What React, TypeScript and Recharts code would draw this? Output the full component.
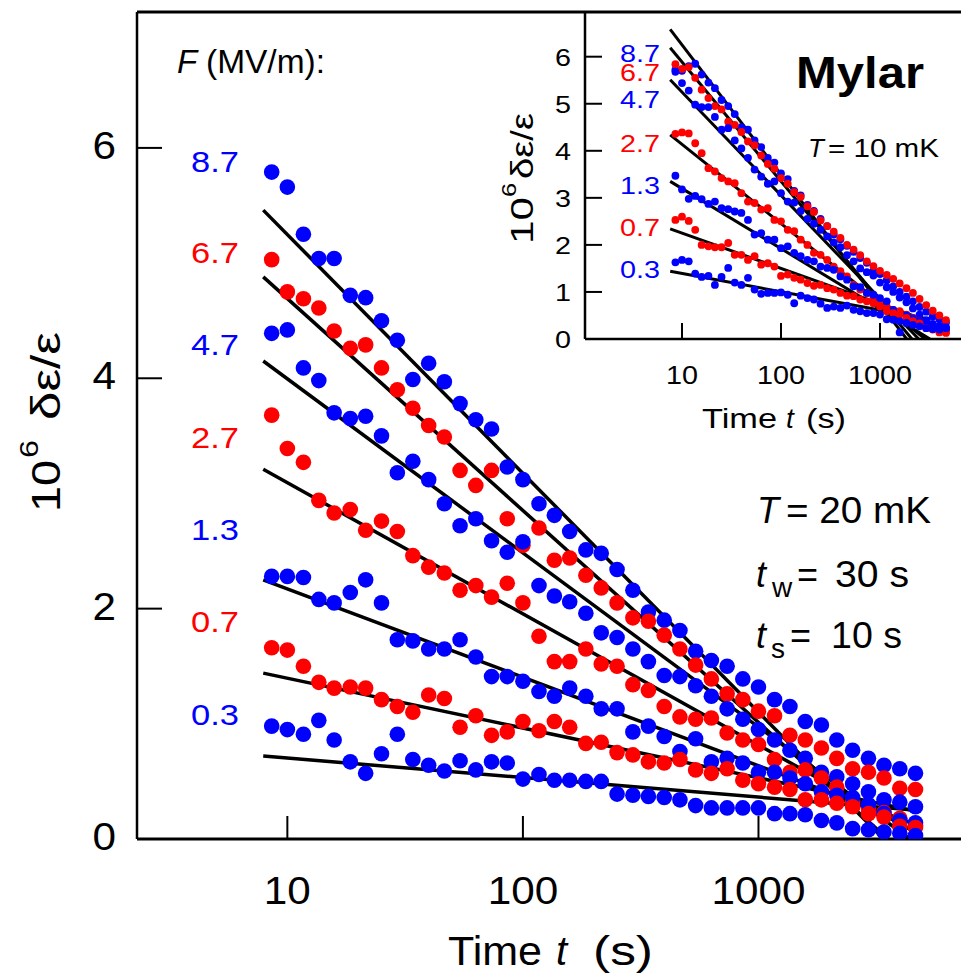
import React from 'react';
import { ComposedChart, XAxis, YAxis, Line, Scatter, ReferenceLine } from 'recharts';

// ---------- data ----------
const TIMES = [
  8.58, 10, 11.7, 13.6, 15.8, 18.5, 21.5, 25.1, 29.3, 34.1,
  39.8, 46.4, 54.1, 63.1, 73.6, 85.8, 100, 117, 136, 158,
  185, 215, 251, 293, 341, 398, 464, 541, 631, 736,
  858, 1000, 1170, 1360, 1580, 1850, 2150, 2510, 2930, 3410,
  3980, 4640,
];

const FIELD_LABELS = ['8.7', '6.7', '4.7', '2.7', '1.3', '0.7', '0.3'];

// main panel, T = 20 mK
const MAIN_87 = [5.79, 5.66, 5.25, 5.04, 5.04, 4.72, 4.70, 4.50, 4.33, 3.99, 4.13, 3.97, 3.78, 3.64, 3.56, 3.23, 3.12, 2.91, 2.81, 2.67, 2.51, 2.48, 2.34, 2.16, 1.97, 1.90, 1.81, 1.63, 1.55, 1.50, 1.39, 1.32, 1.21, 1.15, 1.02, 0.99, 0.86, 0.77, 0.70, 0.64, 0.61, 0.57];
const MAIN_67 = [5.03, 4.75, 4.69, 4.61, 4.41, 4.26, 4.29, 4.09, 3.90, 3.74, 3.59, 3.49, 3.20, 3.07, 3.20, 2.78, 2.55, 2.70, 2.42, 2.44, 2.29, 2.18, 2.05, 1.92, 1.89, 1.77, 1.65, 1.51, 1.39, 1.26, 1.21, 1.11, 1.07, 0.90, 0.86, 0.79, 0.70, 0.61, 0.58, 0.53, 0.44, 0.43];
const MAIN_47 = [4.39, 4.42, 4.09, 3.98, 3.70, 3.65, 3.67, 3.50, 3.18, 3.28, 3.12, 2.91, 2.72, 2.78, 2.59, 2.49, 2.58, 2.20, 2.11, 2.06, 1.96, 1.79, 1.75, 1.65, 1.54, 1.42, 1.41, 1.33, 1.24, 1.13, 1.04, 0.95, 0.86, 0.77, 0.70, 0.58, 0.54, 0.48, 0.41, 0.34, 0.32, 0.28];
const MAIN_27 = [3.68, 3.39, 3.27, 2.94, 2.83, 2.86, 2.68, 2.76, 2.67, 2.46, 2.36, 2.31, 2.16, 2.20, 2.10, 2.22, 2.05, 1.76, 1.54, 1.54, 1.65, 1.52, 1.50, 1.34, 1.29, 1.15, 1.06, 1.04, 1.05, 0.92, 0.86, 0.82, 0.69, 0.58, 0.60, 0.53, 0.45, 0.33, 0.27, 0.23, 0.18, 0.12];
const MAIN_13 = [2.28, 2.28, 2.27, 2.08, 2.05, 2.14, 2.25, 2.05, 1.73, 1.72, 1.65, 1.65, 1.73, 1.58, 1.41, 1.41, 1.37, 1.28, 1.24, 1.31, 1.24, 1.13, 1.13, 0.93, 0.98, 0.89, 0.76, 0.87, 0.67, 0.70, 0.66, 0.58, 0.58, 0.53, 0.48, 0.41, 0.38, 0.36, 0.30, 0.22, 0.16, 0.14];
const MAIN_07 = [1.66, 1.64, 1.50, 1.36, 1.31, 1.32, 1.31, 1.21, 1.15, 1.10, 1.25, 1.22, 0.97, 1.07, 0.90, 0.93, 1.02, 0.94, 1.02, 0.97, 0.83, 0.84, 0.75, 0.73, 0.67, 0.66, 0.69, 0.60, 0.57, 0.61, 0.51, 0.48, 0.45, 0.43, 0.34, 0.34, 0.31, 0.28, 0.22, 0.19, 0.11, 0.10];
const MAIN_03 = [0.98, 0.95, 0.91, 1.03, 0.86, 0.67, 0.57, 0.74, 0.91, 0.69, 0.64, 0.59, 0.68, 0.60, 0.67, 0.66, 0.52, 0.56, 0.51, 0.51, 0.50, 0.50, 0.39, 0.38, 0.37, 0.36, 0.34, 0.29, 0.27, 0.27, 0.27, 0.27, 0.22, 0.22, 0.21, 0.16, 0.14, 0.09, 0.08, 0.06, 0.05, 0.03];

const MAIN_FIT_T0 = 7.9;
const MAIN_FIT_V0 = [5.46, 4.88, 4.15, 3.21, 2.25, 1.44, 0.72];
const MAIN_FIT_T1 = [3400, 3550, 4400, 4700, 4700, 4700, 4700];
const MAIN_FIT_V1 = [0, 0, 0, 0.05, 0.12, 0.24, 0.25];

// inset, T = 10 mK
const INSET_87 = [5.72, 5.70, 5.80, 5.85, 5.62, 5.45, 5.33, 5.08, 4.95, 4.78, 4.50, 4.45, 4.22, 4.08, 3.85, 3.75, 3.52, 3.40, 3.15, 3.05, 2.85, 2.72, 2.55, 2.40, 2.22, 2.12, 1.98, 1.85, 1.72, 1.62, 1.45, 1.38, 1.25, 1.12, 1.00, 0.90, 0.80, 0.68, 0.58, 0.48, 0.42, 0.35];
const INSET_67 = [5.84, 5.74, 5.78, 5.55, 5.30, 5.12, 4.95, 4.88, 4.62, 4.55, 4.40, 4.20, 4.12, 3.90, 3.72, 3.62, 3.42, 3.30, 3.12, 3.02, 2.82, 2.70, 2.52, 2.40, 2.28, 2.15, 2.00, 1.90, 1.78, 1.65, 1.55, 1.45, 1.36, 1.28, 1.18, 1.08, 0.98, 0.85, 0.72, 0.60, 0.50, 0.40];
const INSET_47 = [5.68, 5.44, 5.28, 4.98, 4.93, 4.93, 4.72, 4.45, 4.48, 4.22, 4.05, 3.85, 3.60, 3.45, 3.30, 3.35, 3.10, 2.92, 2.90, 2.72, 2.55, 2.45, 2.32, 2.18, 2.05, 1.95, 1.78, 1.65, 1.50, 1.42, 1.35, 1.20, 1.10, 1.00, 0.88, 0.78, 0.65, 0.52, 0.40, 0.32, 0.28, 0.25];
const INSET_27 = [4.36, 4.39, 4.37, 4.16, 3.95, 3.63, 3.56, 3.42, 3.35, 3.31, 3.10, 2.92, 2.89, 2.75, 2.78, 2.53, 2.50, 2.32, 2.29, 2.11, 2.00, 1.83, 1.79, 1.68, 1.54, 1.44, 1.33, 1.15, 1.05, 0.98, 0.87, 0.80, 0.69, 0.62, 0.59, 0.52, 0.45, 0.38, 0.30, 0.27, 0.20, 0.16];
const INSET_13 = [3.47, 3.18, 2.98, 3.04, 2.97, 2.87, 2.92, 2.78, 2.76, 2.71, 2.68, 2.53, 2.22, 2.25, 2.11, 2.11, 1.93, 1.97, 1.83, 1.76, 1.68, 1.65, 1.54, 1.51, 1.47, 1.33, 1.26, 1.12, 1.10, 0.98, 0.94, 0.87, 0.80, 0.62, 0.14, 0.50, 0.44, 0.38, 0.33, 0.30, 0.26, 0.22];
const INSET_07 = [2.53, 2.60, 2.51, 2.32, 2.00, 1.97, 1.95, 1.95, 2.04, 1.79, 1.79, 1.68, 1.76, 1.58, 1.61, 1.54, 1.34, 1.37, 1.30, 1.26, 1.19, 1.13, 1.15, 1.08, 1.05, 0.98, 0.92, 0.91, 0.84, 0.80, 0.76, 0.69, 0.59, 0.55, 0.52, 0.45, 0.38, 0.33, 0.23, 0.20, 0.14, 0.13];
const INSET_03 = [1.63, 1.68, 1.65, 1.39, 1.32, 1.34, 1.15, 1.32, 1.51, 1.20, 1.15, 1.30, 1.05, 0.96, 0.98, 0.98, 0.99, 0.94, 0.76, 0.92, 0.87, 0.84, 0.75, 0.66, 0.69, 0.66, 0.71, 0.62, 0.59, 0.55, 0.55, 0.52, 0.42, 0.41, 0.38, 0.34, 0.30, 0.27, 0.23, 0.21, 0.20, 0.23];

const INSET_FIT_T0 = 7.6;
const INSET_FIT_V0 = [6.58, 6.19, 5.51, 4.34, 3.35, 2.34, 1.44];
const INSET_FIT_T1 = [1860, 2100, 2460, 2860, 3200, 3200, 3200];
const INSET_FIT_V1 = [0, 0, 0, 0, 0, 0.37, 0.42];

const X_TICKS = [10, 100, 1000];
const MAIN_Y_TICKS = [0, 2, 4, 6];
const INSET_Y_TICKS = [0, 1, 2, 3, 4, 5, 6];

// ---------- styles / layout ----------
const FONT = '"Liberation Sans", Arial, Helvetica, sans-serif';
const BLUE = '#0000ff';
const RED = '#ff0000';
const COLORS = [BLUE, RED, BLUE, RED, BLUE, RED, BLUE];

const MAIN_LEFT = 137;
const MAIN_BOTTOM = 839;
// inset chart is placed at left 440; its own coordinates
const INSET_OFFSET_X = 440;
const INSET_LEFT = 145;
const INSET_BOTTOM = 339;

const MAIN_LABEL_Y = [172, 263, 355, 448, 540, 632, 725];
const INSET_LABEL_Y = [62, 81, 108, 152, 194, 236, 278];

const toPoints = (vals: number[]) => vals.map((v, i) => ({ t: TIMES[i], v }));
const MAIN_SERIES = [MAIN_87, MAIN_67, MAIN_47, MAIN_27, MAIN_13, MAIN_07, MAIN_03].map(toPoints);
const INSET_SERIES = [INSET_87, INSET_67, INSET_47, INSET_27, INSET_13, INSET_07, INSET_03].map(toPoints);
const MAIN_FITS = MAIN_FIT_V0.map((v0, i) => [
  { t: MAIN_FIT_T0, v: v0 },
  { t: MAIN_FIT_T1[i], v: MAIN_FIT_V1[i] },
]);
const INSET_FITS = INSET_FIT_V0.map((v0, i) => [
  { t: INSET_FIT_T0, v: v0 },
  { t: INSET_FIT_T1[i], v: INSET_FIT_V1[i] },
]);

type TP = {
  x: number; y: number; size: number; children: React.ReactNode;
  anchor?: 'start' | 'middle' | 'end'; len?: number; italic?: boolean; bold?: boolean; fill?: string;
};
const Txt = ({ x, y, size, children, anchor = 'start', len, italic = false, bold = false, fill = '#000' }: TP) => (
  <text
    x={x}
    y={y}
    fontSize={size}
    fontFamily={FONT}
    textAnchor={anchor}
    fill={fill}
    fontStyle={italic ? 'italic' : 'normal'}
    fontWeight={bold ? 'bold' : 'normal'}
    {...(len ? { textLength: len, lengthAdjust: 'spacingAndGlyphs' } : {})}
  >
    {children}
  </text>
);

const MainYTick = (props: any) => {
  const { y, payload } = props;
  const s = String(payload.value);
  return (
    <g>
      <line x1={MAIN_LEFT} x2={MAIN_LEFT + 25} y1={y} y2={y} stroke="#000" strokeWidth={2} />
      <Txt x={MAIN_LEFT - 21} y={y + 11} size={39} anchor="end" len={23.5 * s.length}>{s}</Txt>
    </g>
  );
};

const MainXTick = (props: any) => {
  const { x, payload } = props;
  const s = String(payload.value);
  return (
    <g>
      <line x1={x} x2={x} y1={MAIN_BOTTOM} y2={MAIN_BOTTOM - 23} stroke="#000" strokeWidth={2} />
      <Txt x={x} y={904} size={38} anchor="middle" len={23.5 * s.length}>{s}</Txt>
    </g>
  );
};

const InsetYTick = (props: any) => {
  const { y, payload } = props;
  const s = String(payload.value);
  return (
    <g>
      <line x1={INSET_LEFT} x2={INSET_LEFT + 17} y1={y} y2={y} stroke="#000" strokeWidth={2} />
      <Txt x={INSET_LEFT - 14} y={y + 9} size={24} anchor="end" len={16 * s.length}>{s}</Txt>
    </g>
  );
};

const InsetXTick = (props: any) => {
  const { x, payload } = props;
  const s = String(payload.value);
  return (
    <g>
      <line x1={x} x2={x} y1={INSET_BOTTOM} y2={INSET_BOTTOM - 16} stroke="#000" strokeWidth={2} />
      <Txt x={x} y={384} size={25} anchor="middle" len={16 * s.length}>{s}</Txt>
    </g>
  );
};

const dotShape = (color: string, r: number) => (p: any) =>
  <circle cx={p.cx} cy={p.cy} r={r} fill={color} stroke="none" />;

export default function App() {
  return (
    <div style={{ position: 'absolute', left: 0, top: 0, width: 961, height: 976, background: '#fff' }}>
      {/* main chart */}
      <div style={{ position: 'absolute', left: 0, top: 0 }}>
        <ComposedChart width={961} height={976} margin={{ top: 12, right: 0, bottom: 0, left: 0 }}>
          <XAxis
            type="number"
            dataKey="t"
            scale="log"
            domain={[2.3, 7240]}
            allowDataOverflow
            ticks={X_TICKS}
            height={137}
            tickLine={false}
            tick={MainXTick}
            axisLine={{ stroke: '#000', strokeWidth: 3 }}
          />
          <YAxis
            type="number"
            dataKey="v"
            domain={[0, 7.18]}
            allowDataOverflow
            ticks={MAIN_Y_TICKS}
            width={137}
            tickLine={false}
            tick={MainYTick}
            axisLine={{ stroke: '#000', strokeWidth: 2.5 }}
          />
          <ReferenceLine y={7.18} stroke="#000" strokeWidth={3} />
          {MAIN_FITS.map((d, i) => (
            <Line
              key={'mf' + i}
              data={d}
              dataKey="v"
              stroke="#000"
              strokeWidth={3.5}
              dot={false}
              activeDot={false}
              isAnimationActive={false}
            />
          ))}
          {MAIN_SERIES.map((d, i) => (
            <Scatter
              key={'ms' + i}
              data={d}
              dataKey="v"
              fill={COLORS[i]}
              shape={dotShape(COLORS[i], 7.8)}
              isAnimationActive={false}
            />
          ))}
        </ComposedChart>
      </div>

      {/* inset chart */}
      <div style={{ position: 'absolute', left: INSET_OFFSET_X, top: 0 }}>
        <ComposedChart width={521} height={440} margin={{ top: 12, right: 0, bottom: 0, left: 0 }}>
          <XAxis
            type="number"
            dataKey="t"
            scale="log"
            domain={[1.048, 6580]}
            allowDataOverflow
            ticks={X_TICKS}
            height={101}
            tickLine={false}
            tick={InsetXTick}
            axisLine={{ stroke: '#000', strokeWidth: 2.5 }}
          />
          <YAxis
            type="number"
            dataKey="v"
            domain={[0, 6.95]}
            allowDataOverflow
            ticks={INSET_Y_TICKS}
            width={INSET_LEFT}
            tickLine={false}
            tick={InsetYTick}
            axisLine={{ stroke: '#000', strokeWidth: 2.5 }}
          />
          {INSET_FITS.map((d, i) => (
            <Line
              key={'if' + i}
              data={d}
              dataKey="v"
              stroke="#000"
              strokeWidth={3}
              dot={false}
              activeDot={false}
              isAnimationActive={false}
            />
          ))}
          {INSET_SERIES.map((d, i) => (
            <Scatter
              key={'is' + i}
              data={d}
              dataKey="v"
              fill={COLORS[i]}
              shape={dotShape(COLORS[i], 3.9)}
              isAnimationActive={false}
            />
          ))}
        </ComposedChart>
      </div>

      {/* text annotations */}
      <svg
        width={961}
        height={976}
        style={{ position: 'absolute', left: 0, top: 0, pointerEvents: 'none' }}
      >
        {/* main axis titles */}
        <g transform="translate(60,510) rotate(-90)">
          <Txt x={-2} y={0} size={40} len={52}>10</Txt>
          <Txt x={52} y={-22} size={26} len={18}>6</Txt>
          <Txt x={90} y={0} size={40} len={88}>δε/ε</Txt>
        </g>
        <Txt x={448} y={965} size={40} len={94}>Time</Txt>
        <Txt x={556} y={965} size={40} italic>t</Txt>
        <Txt x={593} y={965} size={40} len={60}>(s)</Txt>

        {/* field header and labels */}
        <Txt x={177} y={73} size={33} italic>F</Txt>
        <Txt x={206} y={73} size={33} len={119}>(MV/m):</Txt>
        {FIELD_LABELS.map((s, i) => (
          <Txt key={'ml' + i} x={239} y={MAIN_LABEL_Y[i]} size={30} anchor="end" len={48} fill={COLORS[i]}>
            {s}
          </Txt>
        ))}

        {/* main conditions */}
        <Txt x={757} y={523} size={36} italic>T</Txt>
        <Txt x={786} y={523} size={36} len={145}>= 20 mK</Txt>
        <Txt x={756} y={587} size={36} italic>t</Txt>
        <Txt x={772} y={597} size={28}>w</Txt>
        <Txt x={797} y={587} size={36}>=</Txt>
        <Txt x={835} y={587} size={36} len={74}>30 s</Txt>
        <Txt x={756} y={648} size={36} italic>t</Txt>
        <Txt x={771} y={658} size={28}>s</Txt>
        <Txt x={790} y={648} size={36}>=</Txt>
        <Txt x={831} y={648} size={36} len={71}>10 s</Txt>

        {/* inset texts */}
        <Txt x={796} y={88} size={45} bold len={128}>Mylar</Txt>
        <Txt x={808} y={157} size={26} italic>T</Txt>
        <Txt x={828} y={157} size={26} len={111}>= 10 mK</Txt>
        {FIELD_LABELS.map((s, i) => (
          <Txt key={'il' + i} x={660} y={INSET_LABEL_Y[i]} size={23} anchor="end" len={40} fill={COLORS[i]}>
            {s}
          </Txt>
        ))}
        <g transform="translate(533,243) rotate(-90)">
          <Txt x={-1} y={0} size={31} len={47}>10</Txt>
          <Txt x={46} y={-17} size={20} len={14}>6</Txt>
          <Txt x={64} y={0} size={31} len={66}>δε/ε</Txt>
        </g>
        <Txt x={702} y={428} size={28} len={75}>Time</Txt>
        <Txt x={786} y={428} size={28} italic>t</Txt>
        <Txt x={806} y={428} size={28} len={40}>(s)</Txt>
      </svg>
    </div>
  );
}
